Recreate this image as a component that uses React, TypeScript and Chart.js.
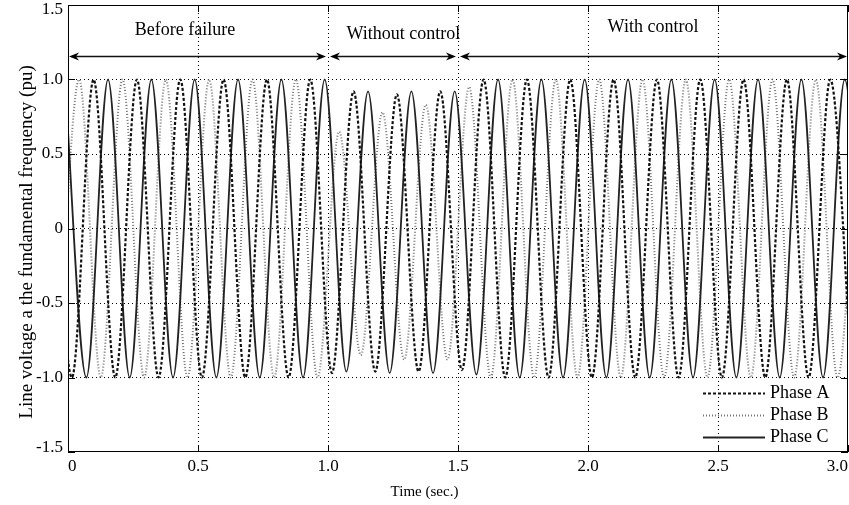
import React, { useEffect, useRef } from 'react';
import { Chart, registerables } from 'chart.js';

Chart.register(...registerables);

// ---- data ----
const xTicks = [0, 0.5, 1.0, 1.5, 2.0, 2.5, 3.0];
const yTicks = [-1.5, -1.0, -0.5, 0, 0.5, 1.0, 1.5];
const seriesNames = ['Phase A', 'Phase B', 'Phase C'];

// times (s) of successive extrema (peaks / troughs) of each phase
const timesA = [-0.0682, 0.0151, 0.0984, 0.1818, 0.2651, 0.3484, 0.4318, 0.5151, 0.5984, 0.6818, 0.7651, 0.8484, 0.9318,
  1.0151, 1.0984, 1.1818, 1.2651, 1.3484, 1.4318, 1.5151, 1.5984, 1.6818, 1.7651, 1.8484, 1.9318, 2.0151, 2.0984,
  2.1818, 2.2651, 2.3484, 2.4318, 2.5151, 2.5984, 2.6818, 2.7651, 2.8484, 2.9318, 3.0151];
const valuesA = [1, -1, 1, -1, 1, -1, 1, -1, 1, -1, 1, -1, 1,
  -0.97, 0.92, -0.96, 0.90, -0.96, 0.92, -0.95,
  1, -1, 1, -1, 1, -1, 1, -1, 1, -1, 1, -1, 1, -1, 1, -1, 1, -1];

const timesB = [-0.0404, 0.0429, 0.1262, 0.2096, 0.2929, 0.3762, 0.4596, 0.5429, 0.6262, 0.7096, 0.7929, 0.8762, 0.9596,
  1.0429, 1.1262, 1.2096, 1.2929, 1.3762, 1.4596, 1.5429, 1.6262, 1.7096, 1.7929, 1.8762, 1.9596, 2.0429, 2.1262,
  2.2096, 2.2929, 2.3762, 2.4596, 2.5429, 2.6262, 2.7096, 2.7929, 2.8762, 2.9596, 3.0429];
const valuesB = [-1, 1, -1, 1, -1, 1, -1, 1, -1, 1, -1, 1, -1,
  0.65, -0.85, 0.78, -0.88, 0.83, -0.88, 0.95,
  -1, 1, -1, 1, -1, 1, -1, 1, -1, 1, -1, 1, -1, 1, -1, 1, -1, 1];

const timesC = [-0.0127, 0.0707, 0.1540, 0.2373, 0.3207, 0.4040, 0.4873, 0.5707, 0.6540, 0.7373, 0.8207, 0.9040, 0.9873,
  1.0707, 1.1540, 1.2373, 1.3207, 1.4040, 1.4873, 1.5707, 1.6540, 1.7373, 1.8207, 1.9040, 1.9873, 2.0707, 2.1540,
  2.2373, 2.3207, 2.4040, 2.4873, 2.5707, 2.6540, 2.7373, 2.8207, 2.9040, 2.9873, 3.0707];
const valuesC = [1, -1, 1, -1, 1, -1, 1, -1, 1, -1, 1, -1, 1,
  -0.96, 0.92, -0.97, 0.92, -0.97, 0.92, -0.98,
  1, -1, 1, -1, 1, -1, 1, -1, 1, -1, 1, -1, 1, -1, 1, -1, 1, -1];

const segmentLabels = ['Before failure', 'Without control', 'With control'];
const segmentStarts = [0, 1.0, 1.5];
const segmentEnds = [1.0, 1.5, 3.0];
const segmentLabelTimes = [0.45, 1.29, 2.25];
const segmentLabelValues = [1.33, 1.305, 1.35];
const arrowValue = 1.16;

const SERIF = '"Liberation Serif", "Times New Roman", serif';

const styles = [
  { color: '#111111', width: 2.2, dash: [3, 2] },
  { color: '#777777', width: 2, dash: [1, 2] },
  { color: '#222222', width: 1.8, dash: [] as number[] },
];

function arrowHead(ctx: CanvasRenderingContext2D, x: number, y: number, dir: number) {
  ctx.beginPath();
  ctx.moveTo(x, y);
  ctx.lineTo(x - dir * 10, y - 4);
  ctx.lineTo(x - dir * 7, y);
  ctx.lineTo(x - dir * 10, y + 4);
  ctx.closePath();
  ctx.fill();
}

const fmt = (v: number) => (v === 0 ? '0' : v.toFixed(1));

const overlay = {
  id: 'overlay',
  afterDraw(chart: any) {
    const { ctx, chartArea: a } = chart;
    const xs = chart.scales.x;
    const ys = chart.scales.y;
    ctx.save();
    ctx.setLineDash([]);
    ctx.strokeStyle = '#000';
    ctx.lineWidth = 1;
    ctx.strokeRect(a.left + 0.5, a.top + 0.5, a.right - a.left - 1, a.bottom - a.top - 1);

    // inner tick marks
    ctx.beginPath();
    xTicks.forEach((t) => {
      const px = Math.round(xs.getPixelForValue(t)) + 0.5;
      ctx.moveTo(px, a.bottom); ctx.lineTo(px, a.bottom - 7);
      ctx.moveTo(px, a.top); ctx.lineTo(px, a.top + 7);
    });
    yTicks.forEach((v) => {
      const py = Math.round(ys.getPixelForValue(v)) + 0.5;
      ctx.moveTo(a.left, py); ctx.lineTo(a.left + 7, py);
      ctx.moveTo(a.right, py); ctx.lineTo(a.right - 7, py);
    });
    ctx.stroke();

    // segment annotations
    ctx.fillStyle = '#000';
    ctx.font = `18px ${SERIF}`;
    ctx.textAlign = 'center';
    ctx.textBaseline = 'middle';
    segmentLabels.forEach((lab, i) => {
      ctx.fillText(lab, xs.getPixelForValue(segmentLabelTimes[i]), ys.getPixelForValue(segmentLabelValues[i]));
    });
    const ay = Math.round(ys.getPixelForValue(arrowValue)) + 0.5;
    ctx.strokeStyle = '#111';
    ctx.lineWidth = 1.5;
    segmentStarts.forEach((s, i) => {
      const x1 = xs.getPixelForValue(s) + (i === 0 ? 1 : 2);
      const x2 = xs.getPixelForValue(segmentEnds[i]) - (i === 2 ? 1 : 2);
      ctx.beginPath();
      ctx.moveTo(x1 + 5, ay); ctx.lineTo(x2 - 5, ay);
      ctx.stroke();
      arrowHead(ctx, x1, ay, -1);
      arrowHead(ctx, x2, ay, 1);
    });

    // legend
    ctx.font = `18px ${SERIF}`;
    ctx.textAlign = 'left';
    const lx1 = a.right - 145;
    const lx2 = a.right - 83;
    seriesNames.forEach((name, i) => {
      const py = a.bottom - 59 + i * 22;
      ctx.strokeStyle = styles[i].color;
      ctx.lineWidth = styles[i].width;
      ctx.setLineDash(styles[i].dash);
      ctx.beginPath();
      ctx.moveTo(lx1, py + 0.5); ctx.lineTo(lx2, py + 0.5);
      ctx.stroke();
      ctx.setLineDash([]);
      ctx.fillStyle = '#000';
      ctx.fillText(name, lx2 + 5, py);
    });

    // axis titles
    ctx.font = `15px ${SERIF}`;
    ctx.textAlign = 'center';
    ctx.fillText('Time (sec.)', chart.width / 2, 492);
    ctx.save();
    ctx.translate(27, 242);
    ctx.rotate(-Math.PI / 2);
    ctx.font = `19px ${SERIF}`;
    ctx.fillText('Line voltage a the fundamental frequency (pu)', 0, 0);
    ctx.restore();
    ctx.restore();
  },
};

export default function App() {
  const ref = useRef<HTMLCanvasElement | null>(null);
  useEffect(() => {
    document.body.style.margin = '0';
    const canvas = ref.current;
    if (!canvas) return;
    const series = [
      { t: timesA, v: valuesA },
      { t: timesB, v: valuesB },
      { t: timesC, v: valuesC },
    ];
    const datasets = series.map((s, i) => ({
      label: seriesNames[i],
      data: s.v.map((v, k) => ({ x: s.t[k], y: v })),
      borderColor: styles[i].color,
      borderWidth: styles[i].width,
      borderDash: styles[i].dash,
      pointRadius: 0,
      fill: false,
      cubicInterpolationMode: 'monotone' as const,
      clip: 0,
      order: i === 2 ? 1 : i === 0 ? 0 : 2,
    }));
    const gridColor = (limitA: number, limitB: number) => (c: any) => {
      const v = c.tick ? c.tick.value : null;
      if (v === null || Math.abs(v - limitA) < 1e-9 || Math.abs(v - limitB) < 1e-9) return 'rgba(0,0,0,0)';
      return '#000';
    };
    const yMax = yTicks[yTicks.length - 1];
    const yMin = yTicks[0];
    const chart = new Chart(canvas, {
      type: 'line',
      data: { datasets },
      plugins: [overlay],
      options: {
        responsive: false,
        animation: false,
        layout: { padding: { top: 5, right: 1, left: 0, bottom: 0 } },
        plugins: { legend: { display: false }, tooltip: { enabled: false } },
        scales: {
          x: {
            type: 'linear',
            min: xTicks[0],
            max: xTicks[xTicks.length - 1],
            afterBuildTicks: (s: any) => { s.ticks = xTicks.map((value) => ({ value })); },
            afterFit: (s: any) => { s.height = 53; s.paddingLeft = 0; s.paddingRight = 0; },
            ticks: {
              align: 'inner',
              autoSkip: false,
              maxRotation: 0,
              padding: 4,
              color: '#000',
              font: { family: SERIF, size: 17 },
              callback: (v: any) => fmt(Number(v)),
            },
            grid: { color: gridColor(0, 3), lineWidth: 1, drawTicks: false },
            border: { display: false, dash: [1, 3] },
          },
          y: {
            type: 'linear',
            min: yMin,
            max: yMax,
            afterBuildTicks: (s: any) => { s.ticks = yTicks.map((value) => ({ value })); },
            afterFit: (s: any) => { s.width = 68; s.paddingTop = 0; s.paddingBottom = 0; },
            ticks: {
              autoSkip: false,
              padding: 5,
              color: '#000',
              font: { family: SERIF, size: 17, lineHeight: 0.55 },
              callback: (v: any) => {
                const n = Number(v);
                if (n === yMax) return ['', fmt(n)];
                if (n === yMin) return [fmt(n), ''];
                return fmt(n);
              },
            },
            grid: { color: gridColor(-1.5, 1.5), lineWidth: 1, drawTicks: false },
            border: { display: false, dash: [1, 3] },
          },
        },
      },
    } as any);
    return () => chart.destroy();
  }, []);
  return <canvas ref={ref} width={849} height={505} style={{ display: 'block', width: 849, height: 505 }} />;
}
